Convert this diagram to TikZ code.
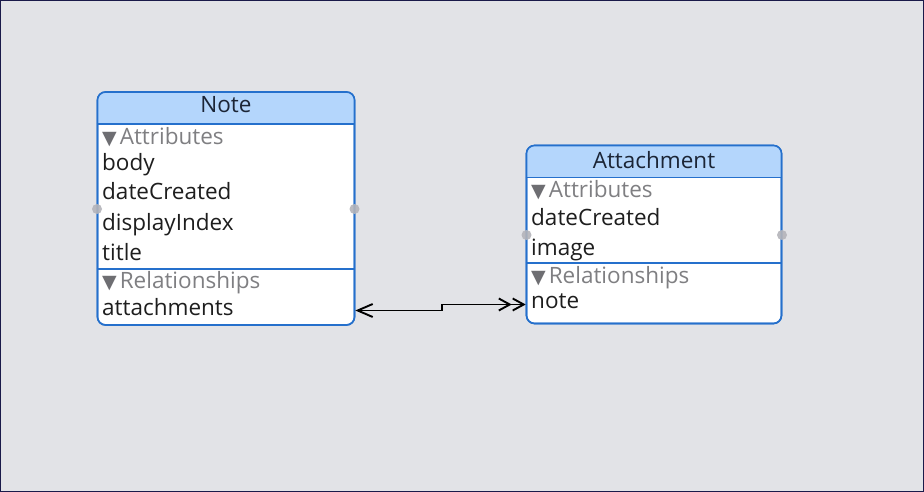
\documentclass[tikz,border=0pt]{standalone}
\usepackage{fontspec}
\setmainfont{Open Sans}
\usetikzlibrary{arrows.meta}
\definecolor{bgc}{HTML}{E2E3E7}
\definecolor{framec}{HTML}{1A1A4A}
\definecolor{boxline}{HTML}{2570CC}
\definecolor{hdrfill}{HTML}{B4D6FC}
\definecolor{hdrtext}{HTML}{1B2536}
\definecolor{sectext}{HTML}{7F7F82}
\definecolor{tricol}{HTML}{6E6E72}
\definecolor{rowtext}{HTML}{1E1E1E}
\definecolor{handlec}{HTML}{B4B4BA}
\newcommand{\sectri}{{\fontspec{DejaVu Sans}\fontsize{19}{22}\selectfont\color{tricol}▼}\hspace{3pt}}
\tikzset{
  entity/.style={draw=boxline, line width=1.6pt, rounded corners=8pt, inner sep=0pt},
  hdrlabel/.style={anchor=base, inner sep=0pt, text=hdrtext, font=\fontsize{22.5}{26}\selectfont},
  seclabel/.style={anchor=base west, inner sep=0pt, text=sectext, font=\fontsize{22.5}{26}\selectfont},
  rowlabel/.style={anchor=base west, inner sep=0pt, text=rowtext, font=\fontsize{22.5}{26}\selectfont},
  sepline/.style={draw=boxline, line width=1.3pt},
  handle/.style={circle, fill=handlec, inner sep=0pt, minimum size=10pt, opacity=0.9},
  rel/.style={line width=1.9pt, draw=black},
}
\begin{document}
\begin{tikzpicture}[x=1pt,y=-1pt]
\fill[bgc] (0,0) rectangle (924,492);
\draw[framec, line width=1.2pt] (0.6,0.6) rectangle (923.4,491.4);

% ---- Note entity
\node[entity, fill=white, minimum width=257pt, minimum height=233pt] (note) at (226,208.5) {};
\begin{scope}
  \clip (97,92) rectangle (355,124);
  \fill[hdrfill, rounded corners=8pt] (97.8,92.8) rectangle (354.2,150);
\end{scope}
\node[entity, minimum width=257pt, minimum height=233pt] (noteframe) at (226,208.5) {};
\draw[sepline] (note.west |- 0,124) -- (note.east |- 0,124);
\draw[sepline] (note.west |- 0,269) -- (note.east |- 0,269);
\node[hdrlabel] (noteTitle) at (226,113) {Note};
\node[seclabel] (noteAttr) at (102,145) {\sectri Attributes};
\node[rowlabel] (nBody) at (102,171) {body};
\node[rowlabel] (nDate) at (102,200) {dateCreated};
\node[rowlabel] (nDisp) at (102,230) {displayIndex};
\node[rowlabel] (nTitle) at (102,260) {title};
\node[seclabel] (noteRel) at (102,288) {\sectri Relationships};
\node[rowlabel] (nAtt) at (102,315) {attachments};
\node[handle] (nhL) at (97,209) {};
\node[handle] (nhR) at (354.5,209) {};

% ---- Attachment entity
\node[entity, fill=white, minimum width=255pt, minimum height=178pt] (att) at (654,234.5) {};
\begin{scope}
  \clip (526,145) rectangle (782,177.5);
  \fill[hdrfill, rounded corners=8pt] (526.8,145.8) rectangle (781.2,200);
\end{scope}
\node[entity, minimum width=255pt, minimum height=178pt] (attframe) at (654,234.5) {};
\draw[sepline] (att.west |- 0,177.5) -- (att.east |- 0,177.5);
\draw[sepline] (att.west |- 0,263) -- (att.east |- 0,263);
\node[hdrlabel] (attTitle) at (654,168) {Attachment};
\node[seclabel] (attAttr) at (531,197) {\sectri Attributes};
\node[rowlabel] (aDate) at (531,225) {dateCreated};
\node[rowlabel] (aImage) at (531,255) {image};
\node[seclabel] (attRel) at (531,283) {\sectri Relationships};
\node[rowlabel] (aNote) at (531,308) {note};
\node[handle] (ahL) at (526.5,235) {};
\node[handle] (ahR) at (782,235) {};

% ---- relationship connector
\coordinate (r1) at (note.east |- 0,310.5);
\coordinate (k1) at (442,310.5);
\coordinate (k2) at (442,304.5);
\coordinate (r2) at (att.west |- 0,304.5);
\draw[rel, {Straight Barb[length=15pt,width=13pt]}-{Straight Barb[length=11pt,width=12pt] Straight Barb[length=11pt,width=12pt]}]
  (r1) -- (k1) -- (k2) -- (r2);
\end{tikzpicture}
\end{document}
